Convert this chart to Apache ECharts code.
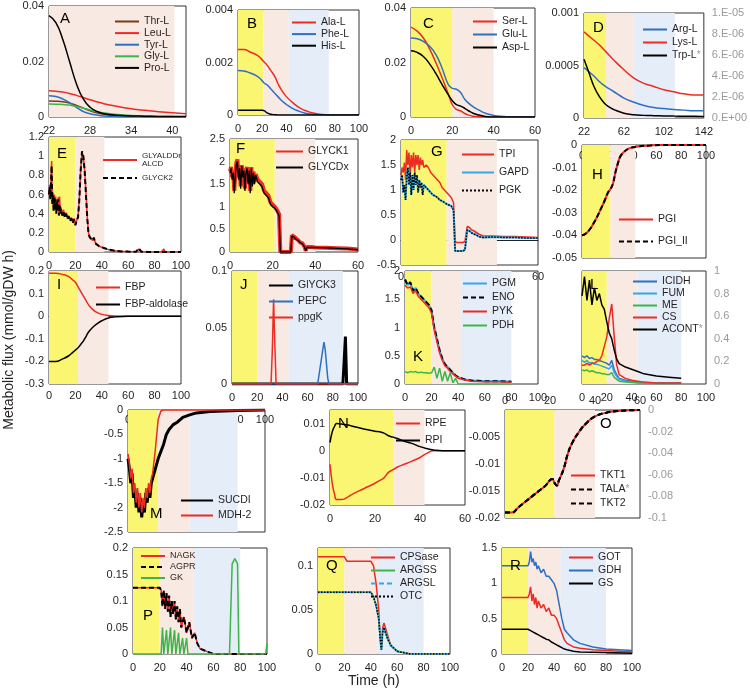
<!DOCTYPE html>
<html>
<head>
<meta charset="utf-8">
<script src="https://cdn.jsdelivr.net/npm/echarts@6/dist/echarts.min.js"></script>
<style>
  html, body { margin: 0; padding: 0; background: #fff; }
  #chart { width: 750px; height: 693px; }
</style>
</head>
<body>
<div id="chart"></div>
<script>
// ---- A: amino acid uptake ----
const A_x = [22, 23, 24, 25, 26, 27, 28, 29, 30, 32, 34, 36, 38, 40, 42];
const A_thr = [0.0058, 0.0057, 0.0055, 0.005, 0.0042, 0.0032, 0.0022, 0.0015, 0.001, 0.0005, 0.0003, 0.0002, 0.0001, 0.0001, 0.0001];
const A_leu = [0.0095, 0.0093, 0.009, 0.0085, 0.0078, 0.007, 0.0062, 0.0055, 0.0048, 0.0038, 0.003, 0.0024, 0.0019, 0.0015, 0.0012];
const A_tyr = [0.0077, 0.0074, 0.0065, 0.0052, 0.0035, 0.002, 0.0012, 0.0007, 0.0004, 0.0002, 0.0001, 0, 0, 0, 0];
const A_gly = [0.0047, 0.0046, 0.0045, 0.0043, 0.0038, 0.0032, 0.0025, 0.0019, 0.0015, 0.0009, 0.0005, 0.0003, 0.0002, 0.0002, 0.0001];
const A_pro = [0.0365, 0.034, 0.028, 0.02, 0.012, 0.0065, 0.0035, 0.002, 0.0012, 0.0006, 0.0004, 0.0003, 0.0002, 0.0002, 0.0002];
const A_xt = [22, 28, 34, 40];

// ---- B ----
const B_x = [0, 5, 10, 15, 18, 20, 22, 24, 27, 30, 33, 36, 40, 45, 50, 55, 60, 65, 70, 77, 100];
const B_ala = [0.0025, 0.0025, 0.0024, 0.0023, 0.0022, 0.0021, 0.002, 0.0019, 0.0017, 0.0015, 0.0012, 0.00095, 0.0007, 0.00048, 0.0003, 0.00018, 0.0001, 0.00005, 0.00002, 0, 0];
const B_phe = [0.0017, 0.00168, 0.0016, 0.0015, 0.0014, 0.0013, 0.0012, 0.00115, 0.001, 0.00085, 0.0007, 0.00055, 0.0004, 0.00025, 0.00015, 0.00008, 0.00004, 0.00001, 0, 0, 0];
const B_his = [0.00018, 0.00018, 0.00018, 0.00018, 0.00018, 0.00018, 0.00016, 0.00008, 0.00003, 0.00001, 0, 0, 0, 0, 0, 0, 0, 0, 0, 0, 0];

// ---- C ----
const C_x = [0, 3, 6, 9, 12, 15, 18, 20, 22, 24, 26, 28, 30, 33, 36, 40, 45, 50, 60];
const C_ser = [0.033, 0.0315, 0.029, 0.025, 0.02, 0.0145, 0.0085, 0.0045, 0.0028, 0.0022, 0.0013, 0.0007, 0.0003, 0.0001, 0, 0, 0, 0, 0];
const C_glu = [0.029, 0.0287, 0.0277, 0.026, 0.023, 0.018, 0.012, 0.0105, 0.0102, 0.009, 0.0065, 0.005, 0.0038, 0.0025, 0.0014, 0.0006, 0.0002, 0, 0];
const C_asp = [0.0243, 0.0237, 0.0222, 0.0195, 0.016, 0.012, 0.0082, 0.006, 0.0045, 0.004, 0.0032, 0.0022, 0.0014, 0.0007, 0.0002, 0, 0, 0, 0];

// ---- D ----
const D_x = [22, 27, 32, 37, 42, 47, 52, 62, 72, 82, 92, 102, 112, 122, 132, 142];
const D_arg = [0.00048, 0.00044, 0.0004, 0.00035, 0.00031, 0.00028, 0.00025, 0.00019, 0.00015, 0.00012, 0.0001, 0.00009, 0.00008, 0.000075, 0.00007, 0.00007];
const D_lys = [0.00082, 0.00078, 0.00074, 0.0007, 0.00065, 0.0006, 0.00055, 0.00046, 0.00038, 0.00033, 0.0003, 0.00027, 0.00025, 0.00023, 0.00022, 0.00022];
const D_trp = [5.6e-6, 4.3e-6, 3.0e-6, 2.1e-6, 1.45e-6, 1.05e-6, 0.8e-6, 0.45e-6, 0.3e-6, 0.25e-6, 0.22e-6, 0.2e-6, 0.18e-6, 0.17e-6, 0.16e-6, 0.15e-6];
const D_xt = [22, 62, 102, 142];

// ---- E ----
const E_x = [0, 0.5, 1, 1.5, 2, 2.5, 3, 3.5, 4, 4.5, 5, 5.5, 6, 6.5, 7, 7.5, 8, 8.5, 9, 10, 11, 12, 13, 14, 15, 16, 17, 18, 19, 20, 21, 22, 23, 24, 25, 26, 27, 28, 29, 30, 31, 32, 33, 34, 35, 36, 38, 40, 45, 50, 55, 60, 66, 68, 69, 70, 75, 80, 85, 86, 87, 88, 90, 100];
const E_ald = [0.6, 0.7, 0.56, 0.75, 0.95, 0.52, 0.62, 0.44, 0.6, 0.45, 0.58, 0.42, 0.54, 0.44, 0.57, 0.4, 0.58, 0.42, 0.47, 0.4, 0.44, 0.37, 0.41, 0.35, 0.38, 0.33, 0.36, 0.31, 0.35, 0.29, 0.33, 0.37, 0.56, 0.86, 1.04, 1.0, 0.86, 0.62, 0.36, 0.19, 0.16, 0.14, 0.12, 0.15, 0.1, 0.1, 0.06, 0.05, 0.025, 0.012, 0.006, 0.004, 0.003, 0.03, 0.02, 0.002, 0.001, 0, 0, 0, 0.03, 0, 0, 0];
const E_ck2 = [0.6, 0.68, 0.55, 0.72, 0.9, 0.5, 0.6, 0.42, 0.57, 0.45, 0.55, 0.4, 0.52, 0.42, 0.55, 0.38, 0.5, 0.4, 0.45, 0.38, 0.42, 0.36, 0.4, 0.34, 0.37, 0.32, 0.35, 0.3, 0.34, 0.28, 0.33, 0.36, 0.55, 0.85, 1.05, 1.0, 0.85, 0.6, 0.35, 0.18, 0.15, 0.13, 0.12, 0.15, 0.09, 0.1, 0.06, 0.05, 0.025, 0.012, 0.006, 0.004, 0.003, 0.04, 0.03, 0.002, 0.001, 0, 0, 0, 0, 0, 0, 0];

// ---- F ----
const F_x = [0, 0.5, 1, 1.5, 2, 2.5, 3, 3.5, 4, 4.5, 5, 5.5, 6, 6.5, 7, 7.5, 8, 8.5, 9, 9.5, 10, 10.5, 11, 11.5, 12, 13, 14, 15, 16, 17, 18, 19, 20, 21, 22, 23, 23.4, 23.6, 28.5, 29, 30, 31, 32, 33, 34, 35, 35.5, 36, 38, 40, 45, 50, 55, 60];
const F_ck1 = [1.78, 1.88, 1.65, 1.8, 1.35, 1.75, 1.98, 2.05, 1.65, 1.9, 1.45, 1.92, 1.7, 1.85, 1.4, 1.8, 1.88, 1.55, 1.82, 1.35, 1.88, 1.5, 1.78, 1.55, 1.72, 1.6, 1.55, 1.5, 1.35, 1.3, 1.25, 1.1, 1.05, 1.0, 0.93, 0.84, 0.8, 0, 0, 0.37, 0.34, 0.3, 0.26, 0.21, 0.19, 0.11, 0.03, 0.11, 0.11, 0.1, 0.095, 0.085, 0.075, 0.055];
const F_cdx = [1.75, 1.85, 1.6, 1.75, 1.3, 1.7, 1.95, 2.0, 1.6, 1.85, 1.4, 1.9, 1.65, 1.8, 1.35, 1.75, 1.85, 1.5, 1.8, 1.3, 1.85, 1.45, 1.75, 1.5, 1.7, 1.55, 1.5, 1.45, 1.3, 1.25, 1.2, 1.05, 1.0, 0.97, 0.9, 0.8, 0.78, 0, 0, 0.35, 0.33, 0.28, 0.25, 0.2, 0.18, 0.1, 0.02, 0.1, 0.1, 0.1, 0.09, 0.08, 0.07, 0.05];

// ---- G ----
const G_x = [0, 0.5, 1, 1.5, 2, 2.5, 3, 3.5, 4, 4.5, 5, 5.5, 6, 6.5, 7, 7.5, 8, 8.5, 9, 9.5, 10, 11, 12, 13, 14, 15, 16, 17, 18, 19, 20, 21, 22, 23, 23.7, 24, 27, 28, 29, 30, 31, 32, 33, 34, 35, 36, 40, 45, 50, 55, 60];
const G_tpi = [1.3, 1.45, 1.35, 1.55, 1.2, 1.8, 1.5, 1.75, 1.3, 1.7, 1.45, 1.75, 1.35, 1.7, 1.5, 1.7, 1.4, 1.65, 1.5, 1.6, 1.45, 1.5, 1.45, 1.35, 1.3, 1.25, 1.2, 1.15, 1.05, 1.0, 0.95, 0.9, 0.85, 0.75, 0.0, -0.05, -0.05, -0.03, 0.27, 0.25, 0.2, 0.18, 0.15, 0.12, 0.1, 0.08, 0.08, 0.07, 0.07, 0.06, 0.05];
const G_gapd = [1.2, 1.3, 0.95, 1.1, 0.8, 1.25, 1.45, 1.1, 1.35, 0.9, 1.3, 1.0, 1.35, 1.1, 1.3, 0.95, 1.2, 1.05, 1.15, 0.9, 1.1, 1.05, 1.0, 0.95, 0.9, 0.88, 0.85, 0.8, 0.78, 0.75, 0.72, 0.7, 0.68, 0.6, -0.22, -0.26, -0.22, -0.2, 0.2, 0.18, 0.14, 0.12, 0.1, 0.07, 0.06, 0.05, 0.06, 0.05, 0.05, 0.04, 0.04];

// ---- H ----
const H_x = [0, 3, 6, 9, 12, 15, 18, 21, 23, 25, 27, 29, 31, 34, 38, 45, 55, 65, 100];
const H_pgi = [-0.04, -0.0392, -0.0375, -0.035, -0.032, -0.0285, -0.025, -0.021, -0.0195, -0.017, -0.012, -0.008, -0.005, -0.003, -0.0015, -0.0007, -0.0002, 0, 0];

// ---- I ----
const I_x = [0, 5, 10, 15, 18, 20, 22, 24, 26, 28, 30, 33, 36, 40, 45, 50, 60, 80, 100];
const I_fbp = [0.19, 0.19, 0.185, 0.175, 0.16, 0.15, 0.13, 0.11, 0.09, 0.07, 0.05, 0.03, 0.018, 0.008, 0.003, 0.001, 0, 0, 0];
const I_ald = [-0.2, -0.2, -0.19, -0.175, -0.16, -0.15, -0.14, -0.125, -0.11, -0.09, -0.07, -0.05, -0.035, -0.02, -0.008, -0.003, 0, 0, 0];

// ---- J ----
const J_ck3x = [0, 88, 89, 90, 91, 100];
const J_ck3 = [0, 0, 0.02, 0.042, 0, 0];
const J_pepcx = [0, 68, 70, 72, 73, 74, 76, 77, 100];
const J_pepc = [0, 0, 0.015, 0.03, 0.037, 0.03, 0.005, 0, 0];
const J_ppgkx = [0, 31, 32, 33, 34, 35, 100];
const J_ppgk = [0, 0, 0.03, 0.075, 0.035, 0, 0];

// ---- K ----
const K_x = [0, 2, 4, 6, 8, 10, 12, 14, 16, 18, 20, 22, 24, 26, 28, 30, 32, 34, 36, 38, 40, 45, 50, 60, 70, 80];
const K_pgm = [1.85, 1.75, 1.8, 1.65, 1.7, 1.6, 1.55, 1.5, 1.45, 1.4, 1.3, 1.0, 0.8, 0.6, 0.45, 0.35, 0.3, 0.25, 0.2, 0.15, 0.12, 0.08, 0.06, 0.05, 0.05, 0.04];
const K_pyk = [1.75, 1.7, 1.72, 1.6, 1.65, 1.55, 1.5, 1.45, 1.4, 1.35, 1.25, 0.95, 0.75, 0.55, 0.42, 0.32, 0.28, 0.22, 0.18, 0.14, 0.1, 0.07, 0.05, 0.04, 0.04, 0.03];
const K_pdh = [0.22, 0.2, 0.22, 0.21, 0.22, 0.2, 0.21, 0.2, 0.2, 0.19, 0.2, 0.3, 0.1, 0.28, 0.05, 0.22, 0.05, 0.2, 0.02, 0.1, 0, 0, 0, 0, 0, 0];

// ---- L ----
const L_x = [0, 2, 4, 6, 8, 10, 12, 14, 16, 18, 20, 22, 24, 26, 28, 30, 35, 40, 45, 50, 60, 70, 80];
const L_icidh = [0.3, 0.28, 0.3, 0.27, 0.28, 0.26, 0.26, 0.25, 0.24, 0.23, 0.22, 0.2, 0.25, 0.15, 0.1, 0.06, 0.04, 0.03, 0.02, 0.015, 0.01, 0.01, 0.01];
const L_fum = [0.25, 0.23, 0.25, 0.22, 0.23, 0.21, 0.21, 0.2, 0.19, 0.18, 0.17, 0.16, 0.2, 0.12, 0.08, 0.05, 0.03, 0.02, 0.015, 0.01, 0.01, 0.01, 0.01];
const L_me = [0.15, 0.14, 0.15, 0.13, 0.14, 0.13, 0.12, 0.12, 0.11, 0.11, 0.1, 0.1, 0.12, 0.07, 0.05, 0.03, 0.02, 0.015, 0.01, 0.01, 0.005, 0.005, 0.005];
const L_cs = [0.2, 0.2, 0.22, 0.2, 0.22, 0.22, 0.24, 0.25, 0.3, 0.4, 0.5, 0.7, 0.85, 0.5, 0.2, 0.1, 0.06, 0.04, 0.03, 0.02, 0.01, 0.01, 0.01];
const L_acont = [0.78, 0.95, 0.74, 0.92, 0.7, 0.85, 0.74, 0.8, 0.7, 0.66, 0.55, 0.45, 0.4, 0.3, 0.22, 0.18, 0.15, 0.13, 0.11, 0.09, 0.07, 0.06, 0.05];

// ---- M ----
const M_x = [0, 1, 2, 3, 4, 5, 6, 7, 8, 9, 10, 11, 12, 13, 14, 15, 16, 17, 18, 20, 22, 24, 26, 28, 30, 33, 36, 40, 45, 50, 60, 80, 100];
const M_sucdi = [-1.0, -1.2, -1.5, -1.3, -1.8, -1.6, -2.0, -1.7, -2.1, -1.8, -2.2, -1.9, -2.1, -1.7, -1.9, -1.6, -1.8, -1.5, -1.4, -1.2, -1.0, -0.85, -0.7, -0.5, -0.4, -0.3, -0.25, -0.15, -0.1, -0.06, -0.03, -0.01, 0];
const M_mdh = [-0.9, -1.1, -1.4, -1.2, -1.7, -1.5, -1.9, -1.6, -2.0, -1.7, -2.1, -1.8, -2.0, -1.6, -1.8, -1.5, -1.7, -1.4, -1.3, -0.8, -0.2, -0.02, 0, 0, 0, 0, 0, 0, 0, 0, 0, 0, 0];

// ---- N ----
const N_x = [0, 1, 2, 3, 5, 8, 10, 15, 20, 22, 24, 26, 28, 30, 33, 36, 40, 43, 46, 50, 60];
const N_rpe = [-0.005, -0.012, -0.016, -0.018, -0.018, -0.017, -0.016, -0.014, -0.012, -0.011, -0.01, -0.008, -0.007, -0.006, -0.005, -0.004, -0.0025, -0.001, 0, 0, 0];
const N_rpi = [0.003, 0.007, 0.009, 0.01, 0.0098, 0.0095, 0.009, 0.008, 0.0072, 0.007, 0.0065, 0.0055, 0.005, 0.0045, 0.0035, 0.0028, 0.0015, 0.0008, 0.0003, 0, 0];

// ---- O ----
const O_x = [0, 3, 6, 9, 12, 15, 18, 20, 21, 22, 23, 24, 26, 28, 30, 33, 36, 40, 45, 50, 60];
const O_tkt = [-0.019, -0.019, -0.018, -0.017, -0.016, -0.015, -0.014, -0.013, -0.0128, -0.0135, -0.014, -0.013, -0.011, -0.008, -0.006, -0.004, -0.0025, -0.0012, -0.0005, -0.0002, 0];
const O_tala = [-0.095, -0.095, -0.09, -0.085, -0.08, -0.075, -0.07, -0.065, -0.064, -0.0675, -0.07, -0.065, -0.055, -0.04, -0.03, -0.02, -0.0125, -0.006, -0.0025, -0.001, 0];

// ---- P ----
const P_x = [0, 20, 21, 22, 23, 24, 25, 26, 27, 28, 29, 30, 31, 32, 33, 34, 35, 36, 38, 40, 42, 44, 46, 48, 50, 55, 60, 100];
const P_nagk = [0.125, 0.125, 0.12, 0.09, 0.12, 0.085, 0.115, 0.08, 0.11, 0.07, 0.1, 0.075, 0.1, 0.065, 0.09, 0.06, 0.085, 0.05, 0.07, 0.04, 0.06, 0.03, 0.04, 0.02, 0.01, 0.005, 0, 0];
const P_gkx = [0, 21, 22, 23, 24, 25, 26, 27, 28, 29, 30, 31, 32, 33, 34, 35, 36, 37, 38, 39, 40, 41, 72, 74, 76, 78, 79, 99, 100];
const P_gk = [0, 0, 0.05, 0, 0, 0.045, 0, 0, 0.05, 0, 0, 0.045, 0, 0, 0.04, 0, 0, 0.03, 0, 0, 0.03, 0, 0, 0.17, 0.18, 0.17, 0, 0, 0.02];

// ---- Q ----
const Q_x = [0, 20, 22, 40, 42, 44, 46, 47, 48, 49, 50, 52, 55, 60, 70, 100];
const Q_cps = [0.11, 0.11, 0.105, 0.105, 0.1, 0.08, 0.05, 0.02, 0.005, 0.03, 0.035, 0.025, 0.01, 0.003, 0, 0];
const Q_argss = [0.07, 0.07, 0.07, 0.07, 0.065, 0.055, 0.04, 0.02, 0.005, 0.025, 0.03, 0.02, 0.01, 0.003, 0, 0];

// ---- R ----
const R_x = [0, 20, 21, 22, 23, 24, 25, 26, 27, 28, 30, 32, 34, 36, 38, 40, 42, 44, 46, 48, 50, 55, 60, 70, 80, 100];
const R_got = [0.8, 0.8, 0.85, 0.95, 0.75, 0.85, 0.7, 0.8, 0.65, 0.75, 0.65, 0.7, 0.6, 0.65, 0.55, 0.55, 0.5, 0.4, 0.3, 0.2, 0.15, 0.1, 0.08, 0.06, 0.05, 0.03];
const R_gdh = [1.25, 1.25, 1.3, 1.45, 1.3, 1.35, 1.25, 1.3, 1.2, 1.25, 1.15, 1.2, 1.1, 1.1, 1.05, 1.0, 0.9, 0.7, 0.5, 0.35, 0.3, 0.2, 0.15, 0.1, 0.07, 0.05];
const R_gs = [0.35, 0.35, 0.34, 0.33, 0.32, 0.31, 0.3, 0.29, 0.28, 0.27, 0.25, 0.23, 0.21, 0.2, 0.17, 0.15, 0.13, 0.11, 0.09, 0.07, 0.06, 0.04, 0.03, 0.025, 0.02, 0.01];

const FONT = '"Liberation Sans", Arial, sans-serif';
const RED = '#ec2b24', BLUE = '#2f6fc1', LBLUE = '#38a6e0', GREEN = '#3db54a', BROWN = '#7b3b14', BLACK = '#000';
const YEL = '#fbf672', PINK = '#f8e9e2', SKY = '#e5edf8';
const GRAY = '#9a9a9a';

const option = { animation: false, grid: [], xAxis: [], yAxis: [], series: [], legend: [], graphic: [] };

function num(v) { return String(+(+v).toPrecision(6)); }
function sci(v) {
  if (Math.abs(v) < 1e-15) return '0.E+00';
  const e = Math.floor(Math.log10(Math.abs(v)) + 1e-9);
  const m = Math.round(v / Math.pow(10, e));
  return m + '.E' + (e < 0 ? '-' : '+') + String(Math.abs(e)).padStart(2, '0');
}
// names that carry a grey asterisk (plotted on the secondary axis)
const starred = ['Trp-L', 'ACONT', 'TALA'];

function valueAxis(a, g, pos, color, zeroIdx) {
  return {
    type: 'value', gridIndex: g, min: a.min, max: a.max, position: pos,
    axisLine: { show: !!a.zero, onZero: !!a.zero, onZeroAxisIndex: zeroIdx, lineStyle: { color: '#222', width: 1 } },
    axisTick: { show: false }, splitLine: { show: false },
    axisLabel: {
      fontSize: 11, color: color || '#231f20', fontFamily: FONT, margin: a.margin || 5, inside: !!a.inside,
      customValues: a.ticks, formatter: a.fmt || num, showMinLabel: true, showMaxLabel: true
    }
  };
}

function addPanel(p) {
  const g = option.grid.length;
  option.grid.push({ left: p.box[0], top: p.box[1], width: p.box[2], height: p.box[3], show: true, borderColor: '#333', borderWidth: 1 });
  const xi = option.xAxis.length;
  const yi = option.yAxis.length;
  option.xAxis.push(valueAxis(p.x, g, p.x.pos || 'bottom', null, yi));
  option.yAxis.push(valueAxis(p.y, g, 'left'));
  let yi2 = yi;
  if (p.y2) { yi2 = option.yAxis.length; option.yAxis.push(valueAxis(p.y2, g, 'right', GRAY)); }
  option.series.push({
    type: 'line', name: '_shade' + p.letter, xAxisIndex: xi, yAxisIndex: yi, data: [[p.x.min, p.y.min]],
    symbol: 'none', lineStyle: { opacity: 0 }, z: 1, silent: true,
    markArea: { silent: true, data: p.shade.map(s => [{ xAxis: s[0], itemStyle: { color: s[2] } }, { xAxis: s[1] }]) }
  });
  p.lines.forEach(l => {
    option.series.push({
      type: 'line', name: l.name, xAxisIndex: xi, yAxisIndex: l.right ? yi2 : yi,
      data: l.xs.map((x, i) => [x, l.ys[i]]), symbol: 'none', smooth: l.smooth || false,
      lineStyle: { color: l.color, width: l.width || 1.5, type: l.dash || 'solid' },
      itemStyle: { color: l.color }, z: 3
    });
  });
  const lg = p.legend;
  option.legend.push({
    orient: 'vertical', left: lg.left, top: lg.top, selectedMode: false,
    data: p.lines.map(l => l.name),
    itemWidth: lg.iw || 24, itemHeight: lg.ih || 10, itemGap: lg.gap || 1, padding: 0,
    itemStyle: { opacity: 0 },
    formatter: n => (lg.fmt ? lg.fmt(n) : (starred.includes(n) ? n + '{s|*}' : n)),
    textStyle: {
      fontSize: lg.fs || 10.5, fontFamily: FONT, color: '#231f20', lineHeight: lg.lh || 10,
      rich: { s: { fontSize: 10, color: GRAY, verticalAlign: 'top', lineHeight: 8 } }
    }
  });
  option.graphic.push({
    type: 'text', left: p.box[0] + p.letterAt[0], top: p.box[1] + p.letterAt[1],
    style: { text: p.letter, font: '15px ' + FONT, fill: '#000' }, z: 10
  });
}

// ---------------- row 1 ----------------
addPanel({
  letter: 'A', box: [49, 6, 137, 111], letterAt: [11, 5],
  x: { min: 22, max: 42, ticks: A_xt, margin: 8 }, y: { min: 0, max: 0.04, ticks: [0, 0.02, 0.04] },
  shade: [[22, 40.3, PINK]],
  lines: [
    { name: 'Thr-L', xs: A_x, ys: A_thr, color: BROWN, smooth: true },
    { name: 'Leu-L', xs: A_x, ys: A_leu, color: RED, smooth: true },
    { name: 'Tyr-L', xs: A_x, ys: A_tyr, color: BLUE, smooth: true },
    { name: 'Gly-L', xs: A_x, ys: A_gly, color: GREEN, smooth: true },
    { name: 'Pro-L', xs: A_x, ys: A_pro, color: BLACK, smooth: true }
  ],
  legend: { left: 114, top: 16, gap: 0.6 }
});
addPanel({
  letter: 'B', box: [238, 10, 121, 105], letterAt: [9, 6],
  x: { min: 0, max: 100, ticks: [0, 20, 40, 60, 80, 100], margin: 8 }, y: { min: 0, max: 0.004, ticks: [0, 0.002, 0.004] },
  shade: [[0, 21, YEL], [21, 42, PINK], [42, 75, SKY]],
  lines: [
    { name: 'Ala-L', xs: B_x, ys: B_ala, color: RED, smooth: true },
    { name: 'Phe-L', xs: B_x, ys: B_phe, color: BLUE, smooth: true },
    { name: 'His-L', xs: B_x, ys: B_his, color: BLACK, smooth: true }
  ],
  legend: { left: 291, top: 17, gap: 0.6 }
});
addPanel({
  letter: 'C', box: [411, 8, 124, 109], letterAt: [12, 8],
  x: { min: 0, max: 60, ticks: [0, 20, 40, 60], margin: 8 }, y: { min: 0, max: 0.04, ticks: [0, 0.02, 0.04] },
  shade: [[0, 20, YEL], [20, 40, PINK]],
  lines: [
    { name: 'Ser-L', xs: C_x, ys: C_ser, color: RED, smooth: true },
    { name: 'Glu-L', xs: C_x, ys: C_glu, color: BLUE, smooth: true },
    { name: 'Asp-L', xs: C_x, ys: C_asp, color: BLACK, smooth: true }
  ],
  legend: { left: 472, top: 16, gap: 2 }
});
addPanel({
  letter: 'D', box: [584, 13, 123, 105], letterAt: [9, 7],
  x: { min: 22, max: 142, ticks: D_xt, margin: 8 }, y: { min: 0, max: 0.001, ticks: [0, 0.0005, 0.001] },
  y2: { min: 0, max: 1e-5, ticks: [0, 2e-6, 4e-6, 6e-6, 8e-6, 1e-5], fmt: sci, margin: 8 },
  shade: [[22, 44, YEL], [44, 72, PINK], [72, 113, SKY]],
  lines: [
    { name: 'Arg-L', xs: D_x, ys: D_arg, color: BLUE, smooth: true },
    { name: 'Lys-L', xs: D_x, ys: D_lys, color: RED, smooth: true },
    { name: 'Trp-L', xs: D_x, ys: D_trp, color: BLACK, smooth: true, right: true }
  ],
  legend: { left: 642, top: 24, gap: 2 }
});

// ---------------- row 2 ----------------
addPanel({
  letter: 'E', box: [49, 137, 132, 115], letterAt: [8, 9],
  x: { min: 0, max: 100, ticks: [0, 20, 40, 60, 80, 100], margin: 8 }, y: { min: 0, max: 1.2, ticks: [0, 0.2, 0.4, 0.6, 0.8, 1, 1.2] },
  shade: [[0, 20, YEL], [20, 42, PINK]],
  lines: [
    { name: 'GLYALDDr ALCD', xs: E_x, ys: E_ald, color: RED, width: 1.5 },
    { name: 'GLYCK2', xs: E_x, ys: E_ck2, color: BLACK, width: 2, dash: [5, 3] }
  ],
  legend: { left: 102, top: 152, gap: 6, fs: 8, lh: 8, iw: 34, fmt: n => n === 'GLYALDDr ALCD' ? 'GLYALDDr\nALCD' : n }
});
addPanel({
  letter: 'F', box: [230, 139, 128, 113], letterAt: [6, 2],
  x: { min: 0, max: 60, ticks: [0, 20, 40, 60], margin: 8 }, y: { min: 0, max: 2.5, ticks: [0, 0.5, 1, 1.5, 2, 2.5] },
  shade: [[0, 21, YEL], [21, 40, PINK]],
  lines: [
    { name: 'GLYCK1', xs: F_x, ys: F_ck1, color: RED, width: 4 },
    { name: 'GLYCDx', xs: F_x, ys: F_cdx, color: BLACK, width: 1.3 }
  ],
  legend: { left: 275, top: 146, gap: 5, iw: 27 }
});
addPanel({
  letter: 'G', box: [401, 140, 137, 125], letterAt: [30, 4],
  x: { min: 0, max: 60, ticks: [0, 20, 40, 60], zero: true, margin: 6 }, y: { min: -0.5, max: 2, ticks: [-0.5, 0, 0.5, 1, 1.5, 2] },
  shade: [[0, 20, YEL], [20, 42, PINK]],
  lines: [
    { name: 'TPI', xs: G_x, ys: G_tpi, color: RED, width: 1.5 },
    { name: 'GAPD', xs: G_x, ys: G_gapd, color: LBLUE, width: 2 },
    { name: 'PGK', xs: G_x, ys: G_gapd, color: BLACK, width: 1.5, dash: 'dotted' }
  ],
  legend: { left: 461, top: 149, gap: 7, iw: 32 }
});
addPanel({
  letter: 'H', box: [582, 145, 124, 113], letterAt: [10, 22],
  x: { min: 0, max: 100, ticks: [0, 20, 40, 60, 80, 100], pos: 'top', inside: true, margin: 5 }, y: { min: -0.05, max: 0, ticks: [-0.05, -0.04, -0.03, -0.02, -0.01, 0] },
  shade: [[0, 23, YEL], [23, 43, PINK]],
  lines: [
    { name: 'PGI', xs: H_x, ys: H_pgi, color: RED, width: 2, smooth: true },
    { name: 'PGI_II', xs: H_x, ys: H_pgi, color: BLACK, width: 2, dash: [5, 3], smooth: true }
  ],
  legend: { left: 618, top: 214, gap: 11, iw: 34 }
});

// ---------------- row 3 ----------------
addPanel({
  letter: 'I', box: [49, 271, 132, 113], letterAt: [8, 6],
  x: { min: 0, max: 100, ticks: [0, 20, 40, 60, 80, 100], zero: true, margin: 6 }, y: { min: -0.3, max: 0.2, ticks: [-0.3, -0.2, -0.1, 0, 0.1, 0.2] },
  shade: [[0, 22, YEL], [22, 45, PINK]],
  lines: [
    { name: 'FBP', xs: I_x, ys: I_fbp, color: RED, smooth: true },
    { name: 'FBP-aldolase', xs: I_x, ys: I_ald, color: BLACK, smooth: true }
  ],
  legend: { left: 95, top: 282, gap: 6 }
});
addPanel({
  letter: 'J', box: [232, 271, 126, 113], letterAt: [8, 6],
  x: { min: 0, max: 100, ticks: [0, 20, 40, 60, 80, 100], margin: 8 }, y: { min: 0, max: 0.1, ticks: [0, 0.05, 0.1] },
  shade: [[0, 20, YEL], [20, 45, PINK], [45, 88, SKY]],
  lines: [
    { name: 'GlYCK3', xs: J_ck3x, ys: J_ck3, color: BLACK, width: 3 },
    { name: 'PEPC', xs: J_pepcx, ys: J_pepc, color: BLUE, width: 1.5 },
    { name: 'ppgK', xs: J_ppgkx, ys: J_ppgk, color: RED, width: 1.5 }
  ],
  legend: { left: 268, top: 280, gap: 5 }
});
addPanel({
  letter: 'K', box: [405, 271, 133, 113], letterAt: [8, 78],
  x: { min: 0, max: 100, ticks: [0, 20, 40, 60, 80, 100], margin: 8 }, y: { min: 0, max: 2, ticks: [0, 0.5, 1, 1.5, 2] },
  shade: [[0, 20, YEL], [20, 42, PINK], [42, 80, SKY]],
  lines: [
    { name: 'PGM', xs: K_x, ys: K_pgm, color: LBLUE, width: 2 },
    { name: 'ENO', xs: K_x, ys: K_pgm, color: BLACK, width: 2, dash: [5, 3] },
    { name: 'PYK', xs: K_x, ys: K_pyk, color: RED, width: 1.5 },
    { name: 'PDH', xs: K_x, ys: K_pdh, color: GREEN, width: 1.5 }
  ],
  legend: { left: 462, top: 278, gap: 3 }
});
addPanel({
  letter: 'L', box: [582, 271, 124, 113], letterAt: [8, 6],
  x: { min: 0, max: 100, ticks: [0, 20, 40, 60, 80, 100], margin: 8 }, y: { min: 0, max: 1.2, ticks: [] },
  y2: { min: 0, max: 1, ticks: [0, 0.2, 0.4, 0.6, 0.8, 1], margin: 8 },
  shade: [[0, 20, YEL], [20, 45, PINK], [45, 80, SKY]],
  lines: [
    { name: 'ICIDH', xs: L_x, ys: L_icidh, color: BLUE },
    { name: 'FUM', xs: L_x, ys: L_fum, color: LBLUE },
    { name: 'ME', xs: L_x, ys: L_me, color: GREEN },
    { name: 'CS', xs: L_x, ys: L_cs, color: RED },
    { name: 'ACONT', xs: L_x, ys: L_acont, color: BLACK, right: true }
  ],
  legend: { left: 632, top: 276, gap: 1 }
});

// ---------------- row 4 ----------------
addPanel({
  letter: 'M', box: [128, 410, 137, 122], letterAt: [22, 96],
  x: { min: 0, max: 100, ticks: [0, 20, 40, 60, 80, 100], pos: 'top', inside: true, margin: 4 }, y: { min: -2.5, max: 0, ticks: [-2.5, -2, -1.5, -1, -0.5, 0] },
  shade: [[0, 22, YEL], [22, 45, PINK], [45, 80, SKY]],
  lines: [
    { name: 'SUCDI', xs: M_x, ys: M_sucdi, color: BLACK, width: 3 },
    { name: 'MDH-2', xs: M_x, ys: M_mdh, color: RED, width: 1.5 }
  ],
  legend: { left: 180, top: 495, gap: 4, iw: 32 }
});
addPanel({
  letter: 'N', box: [330, 410, 135, 95], letterAt: [8, 6],
  x: { min: 0, max: 60, ticks: [0, 20, 40, 60], margin: 8 }, y: { min: -0.02, max: 0.015, ticks: [-0.02, -0.01, 0, 0.01] },
  shade: [[0, 28, YEL], [28, 42, PINK]],
  lines: [
    { name: 'RPE', xs: N_x, ys: N_rpe, color: RED, smooth: true },
    { name: 'RPI', xs: N_x, ys: N_rpi, color: BLACK, smooth: true }
  ],
  legend: { left: 395, top: 418, gap: 6 }
});
addPanel({
  letter: 'O', box: [505, 410, 135, 108], letterAt: [95, 6],
  x: { min: 0, max: 60, ticks: [0, 20, 40, 60], pos: 'top', margin: 4 }, y: { min: -0.02, max: 0, ticks: [-0.02, -0.015, -0.01, -0.005] },
  y2: { min: -0.1, max: 0, ticks: [-0.1, -0.08, -0.06, -0.04, -0.02, 0], margin: 8 },
  shade: [[0, 22, YEL], [22, 40, PINK]],
  lines: [
    { name: 'TKT1', xs: O_x, ys: O_tkt, color: RED, width: 2, smooth: true },
    { name: 'TALA', xs: O_x, ys: O_tala, color: BLACK, width: 2, dash: [5, 3], smooth: true, right: true },
    { name: 'TKT2', xs: O_x, ys: O_tkt, color: BLACK, width: 2, dash: [5, 3], smooth: true }
  ],
  legend: { left: 570, top: 470, gap: 3 }
});

// ---------------- row 5 ----------------
addPanel({
  letter: 'P', box: [133, 548, 134, 106], letterAt: [10, 60],
  x: { min: 0, max: 100, ticks: [0, 20, 40, 60, 80, 100], margin: 8 }, y: { min: 0, max: 0.2, ticks: [0, 0.05, 0.1, 0.15, 0.2] },
  shade: [[0, 20, YEL], [20, 45, PINK], [45, 80, SKY]],
  lines: [
    { name: 'NAGK', xs: P_x, ys: P_nagk, color: RED, width: 1.5 },
    { name: 'AGPR', xs: P_x, ys: P_nagk, color: BLACK, width: 2, dash: [5, 3] },
    { name: 'GK', xs: P_gkx, ys: P_gk, color: GREEN, width: 1.5 }
  ],
  legend: { left: 140, top: 551, gap: 1, fs: 9 }
});
addPanel({
  letter: 'Q', box: [318, 548, 132, 106], letterAt: [8, 10],
  x: { min: 0, max: 100, ticks: [0, 20, 40, 60, 80, 100], margin: 8 }, y: { min: 0, max: 0.12, ticks: [0, 0.05, 0.1] },
  shade: [[0, 20, YEL], [20, 45, PINK], [45, 80, SKY]],
  lines: [
    { name: 'CPSase', xs: Q_x, ys: Q_cps, color: RED, width: 1.5 },
    { name: 'ARGSS', xs: Q_x, ys: Q_argss, color: GREEN, width: 1.5 },
    { name: 'ARGSL', xs: Q_x, ys: Q_argss, color: LBLUE, width: 2, dash: [5, 3] },
    { name: 'OTC', xs: Q_x, ys: Q_argss, color: BLACK, width: 1.5, dash: 'dotted' }
  ],
  legend: { left: 370, top: 552, gap: 2 }
});
addPanel({
  letter: 'R', box: [502, 548, 130, 106], letterAt: [8, 10],
  x: { min: 0, max: 100, ticks: [0, 20, 40, 60, 80, 100], margin: 8 }, y: { min: 0, max: 1.5, ticks: [0, 0.5, 1, 1.5] },
  shade: [[0, 20, YEL], [20, 45, PINK], [45, 80, SKY]],
  lines: [
    { name: 'GOT', xs: R_x, ys: R_got, color: RED, width: 1.5 },
    { name: 'GDH', xs: R_x, ys: R_gdh, color: BLUE, width: 1.5 },
    { name: 'GS', xs: R_x, ys: R_gs, color: BLACK, width: 1.5 }
  ],
  legend: { left: 568, top: 552, gap: 2 }
});

option.graphic.push(
  { type: 'text', left: 2, top: 250, rotation: Math.PI / 2, style: { text: 'Metabolic flux (mmol/gDW h)', font: '14px ' + FONT, fill: '#231f20' } },
  { type: 'text', left: 348, top: 674, style: { text: 'Time (h)', font: '14px ' + FONT, fill: '#231f20' } }
);

const chart = echarts.init(document.getElementById('chart'), null, { renderer: 'canvas' });
chart.setOption(option);
</script>
</body>
</html>
